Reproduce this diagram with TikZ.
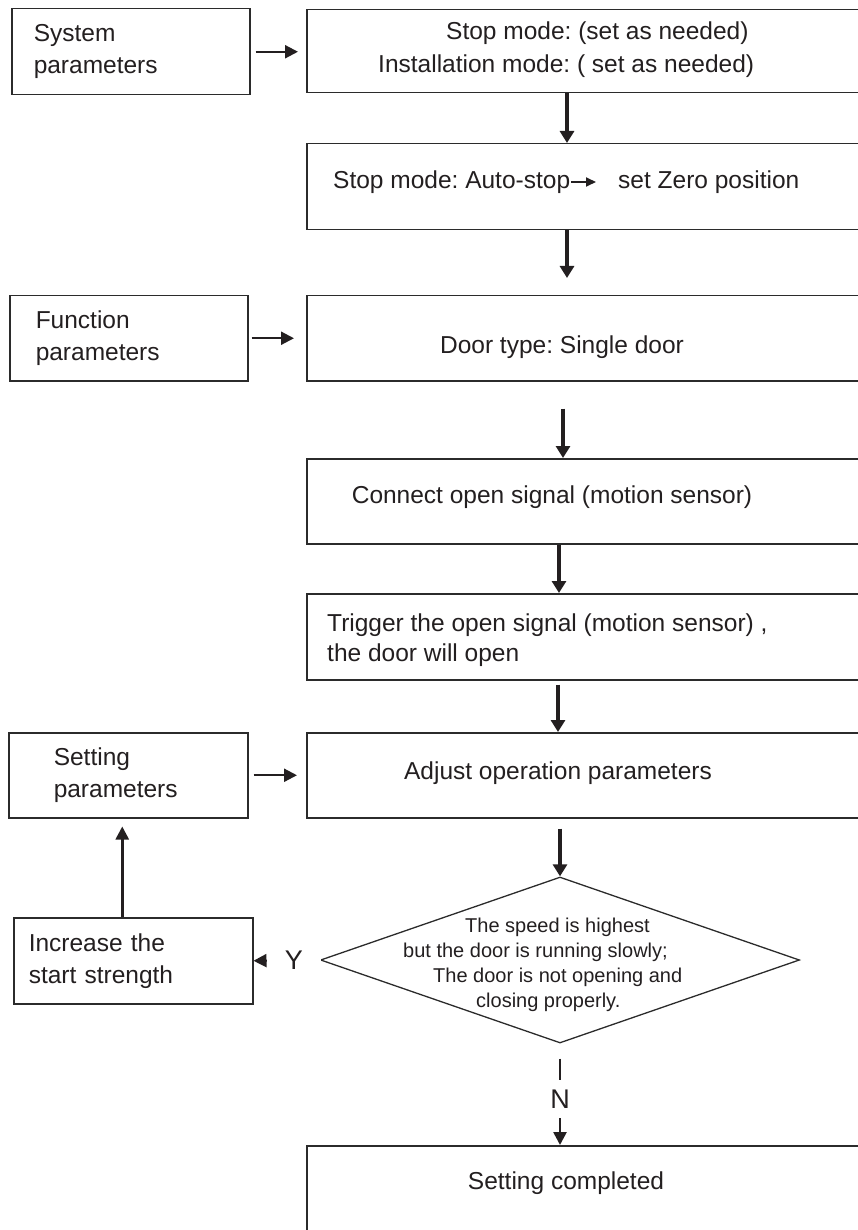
\documentclass[tikz,border=0pt]{standalone}
\usepackage{fontspec}
\setmainfont{Liberation Sans}
\usepackage{xcolor}
\usepackage{tikz}
\usetikzlibrary{arrows.meta, shapes.geometric}
\frenchspacing
\definecolor{ink}{HTML}{231F20}
\definecolor{boxline}{HTML}{2B2B2B}
\tikzset{
    mainbox/.style={
        rectangle, draw=boxline, line width=1.5pt,
        minimum width=570pt, anchor=north west, inner sep=0pt
    },
    sidebox/.style={
        rectangle, draw=boxline, line width=1.5pt, anchor=north west,
        minimum height=86pt, inner ysep=0pt, align=left, text=ink,
        font=\fontsize{24.5}{32}\selectfont
    },
    boxtext/.style={
        inner sep=0pt, text=ink, font=\fontsize{24.5}{32}\selectfont
    },
    decision/.style={
        diamond, draw=boxline, line width=1.3pt,
        minimum width=479pt, minimum height=166pt, inner sep=0pt
    },
    dectext/.style={
        inner sep=0pt, text=ink, align=left,
        font=\fontsize{20}{25}\selectfont
    },
    downarrow/.style={
        -{Triangle[length=12pt, width=14pt]}, line width=4pt, draw=ink
    },
    sidearrow/.style={
        -{Triangle[length=13pt, width=13pt]}, line width=2.2pt, draw=ink
    },
    tinyarrow/.style={
        -{Triangle[length=10pt, width=9pt]}, line width=1.8pt, draw=ink
    },
    yesno/.style={
        fill=white, inner sep=0pt, text=ink,
        font=\fontsize{27}{32}\selectfont
    },
}

\begin{document}
\begin{tikzpicture}[x=1pt, y=-1pt]
    \useasboundingbox (0,0) rectangle (858,1230);

    % ── Left column ──
    \node[sidebox, inner xsep=22pt, text width=194pt] (sys) at (11,8) {System\\parameters};
    \node[sidebox, inner xsep=26pt, text width=186pt, minimum height=85pt] (func) at (9,295) {Function\\parameters};
    \node[sidebox, inner xsep=45pt, text width=149pt, minimum height=85pt] (setbox) at (8,732) {Setting\\parameters};
    \node[sidebox, inner xsep=15pt, text width=209pt] (inc) at (13,917) {Increase the\\start strength};

    % ── Main column ──
    \node[mainbox, minimum height=83pt] (stopbox) at (306,9) {};
    \node[boxtext, anchor=west, align=left, font=\fontsize{24.5}{33}\selectfont] (stoptxt) at (378,49.5)
        {\hspace*{68pt}Stop mode: (set as needed)\\Installation mode: ( set as needed)};

    \node[mainbox, minimum height=86pt] (zerobox) at (306,143) {};
    \node[boxtext, anchor=west] (zerol) at (333,182) {Stop mode: Auto-stop};
    \node[boxtext, anchor=west] (zeror) at (618,182) {set Zero position};

    \node[mainbox, minimum height=85pt] (doorbox) at (306,295) {};
    \node[boxtext] (doortxt) at (562,347) {Door type: Single door};

    \node[mainbox, minimum height=85pt] (connbox) at (306,458) {};
    \node[boxtext] (conntxt) at (552,497) {Connect open signal (motion sensor)};

    \node[mainbox, minimum height=86pt] (trigbox) at (306,593) {};
    \node[boxtext, anchor=west, align=left, font=\fontsize{24.5}{30}\selectfont] (trigtxt) at (327,640)
        {Trigger the open signal (motion sensor) ,\\the door will open};

    \node[mainbox, minimum height=85pt] (adjbox) at (306,732) {};
    \node[boxtext] (adjtxt) at (558,773) {Adjust operation parameters};

    % ── Decision ──
    \node[decision] (dec) at (560,960) {};
    \node[dectext, anchor=west] (dectxt) at (403,965)
        {\hspace*{62pt}The speed is highest\\but the door is running slowly;\\\hspace*{30pt}The door is not opening and\\\hspace*{73pt}closing properly.};

    \node[mainbox, minimum height=120pt] (done) at (306,1145) {};
    \node[boxtext] (donetxt) at (566,1183) {Setting completed};

    % ── Arrows ──
    \draw[sidearrow, shorten <=5pt, shorten >=8pt] (sys.east) -- (sys.east -| stopbox.west);
    \draw[sidearrow, shorten <=3pt, shorten >=12pt] (func.east) -- (func.east -| doorbox.west);
    \draw[sidearrow, shorten <=5pt, shorten >=9pt] (setbox.east) -- (setbox.east -| adjbox.west);

    \draw[downarrow] ([xshift=261pt]stopbox.south west) -- ([xshift=261pt]zerobox.north west);
    \draw[downarrow, shorten >=17pt] ([xshift=261pt]zerobox.south west) -- ([xshift=261pt]doorbox.north west);
    \draw[downarrow, shorten <=27pt] ([xshift=257pt]doorbox.south west) -- ([xshift=257pt]connbox.north west);
    \draw[downarrow] ([xshift=253pt]connbox.south west) -- ([xshift=253pt]trigbox.north west);
    \draw[downarrow, shorten <=4pt] ([xshift=252pt]trigbox.south west) -- ([xshift=252pt]adjbox.north west);
    \draw[downarrow, shorten <=10pt] (adjbox.south -| dec.north) -- (dec.north);

    \draw[tinyarrow, shorten <=1pt, shorten >=22pt] (zerol.east) -- (zeror.west);

    \draw[sidearrow] (dec.west) -- node[pos=0.39, yesno, minimum width=54pt, minimum height=30pt] {Y} (inc.east);
    \draw[sidearrow, line width=2.6pt, shorten >=8pt] ([xshift=-11pt]inc.north) -- ([xshift=-6pt]setbox.south);
    \draw[sidearrow, line width=2.6pt, shorten <=15pt] (dec.south) -- node[pos=0.55, yesno, minimum height=38pt] {N} (dec.south |- done.north);

\end{tikzpicture}
\end{document}
